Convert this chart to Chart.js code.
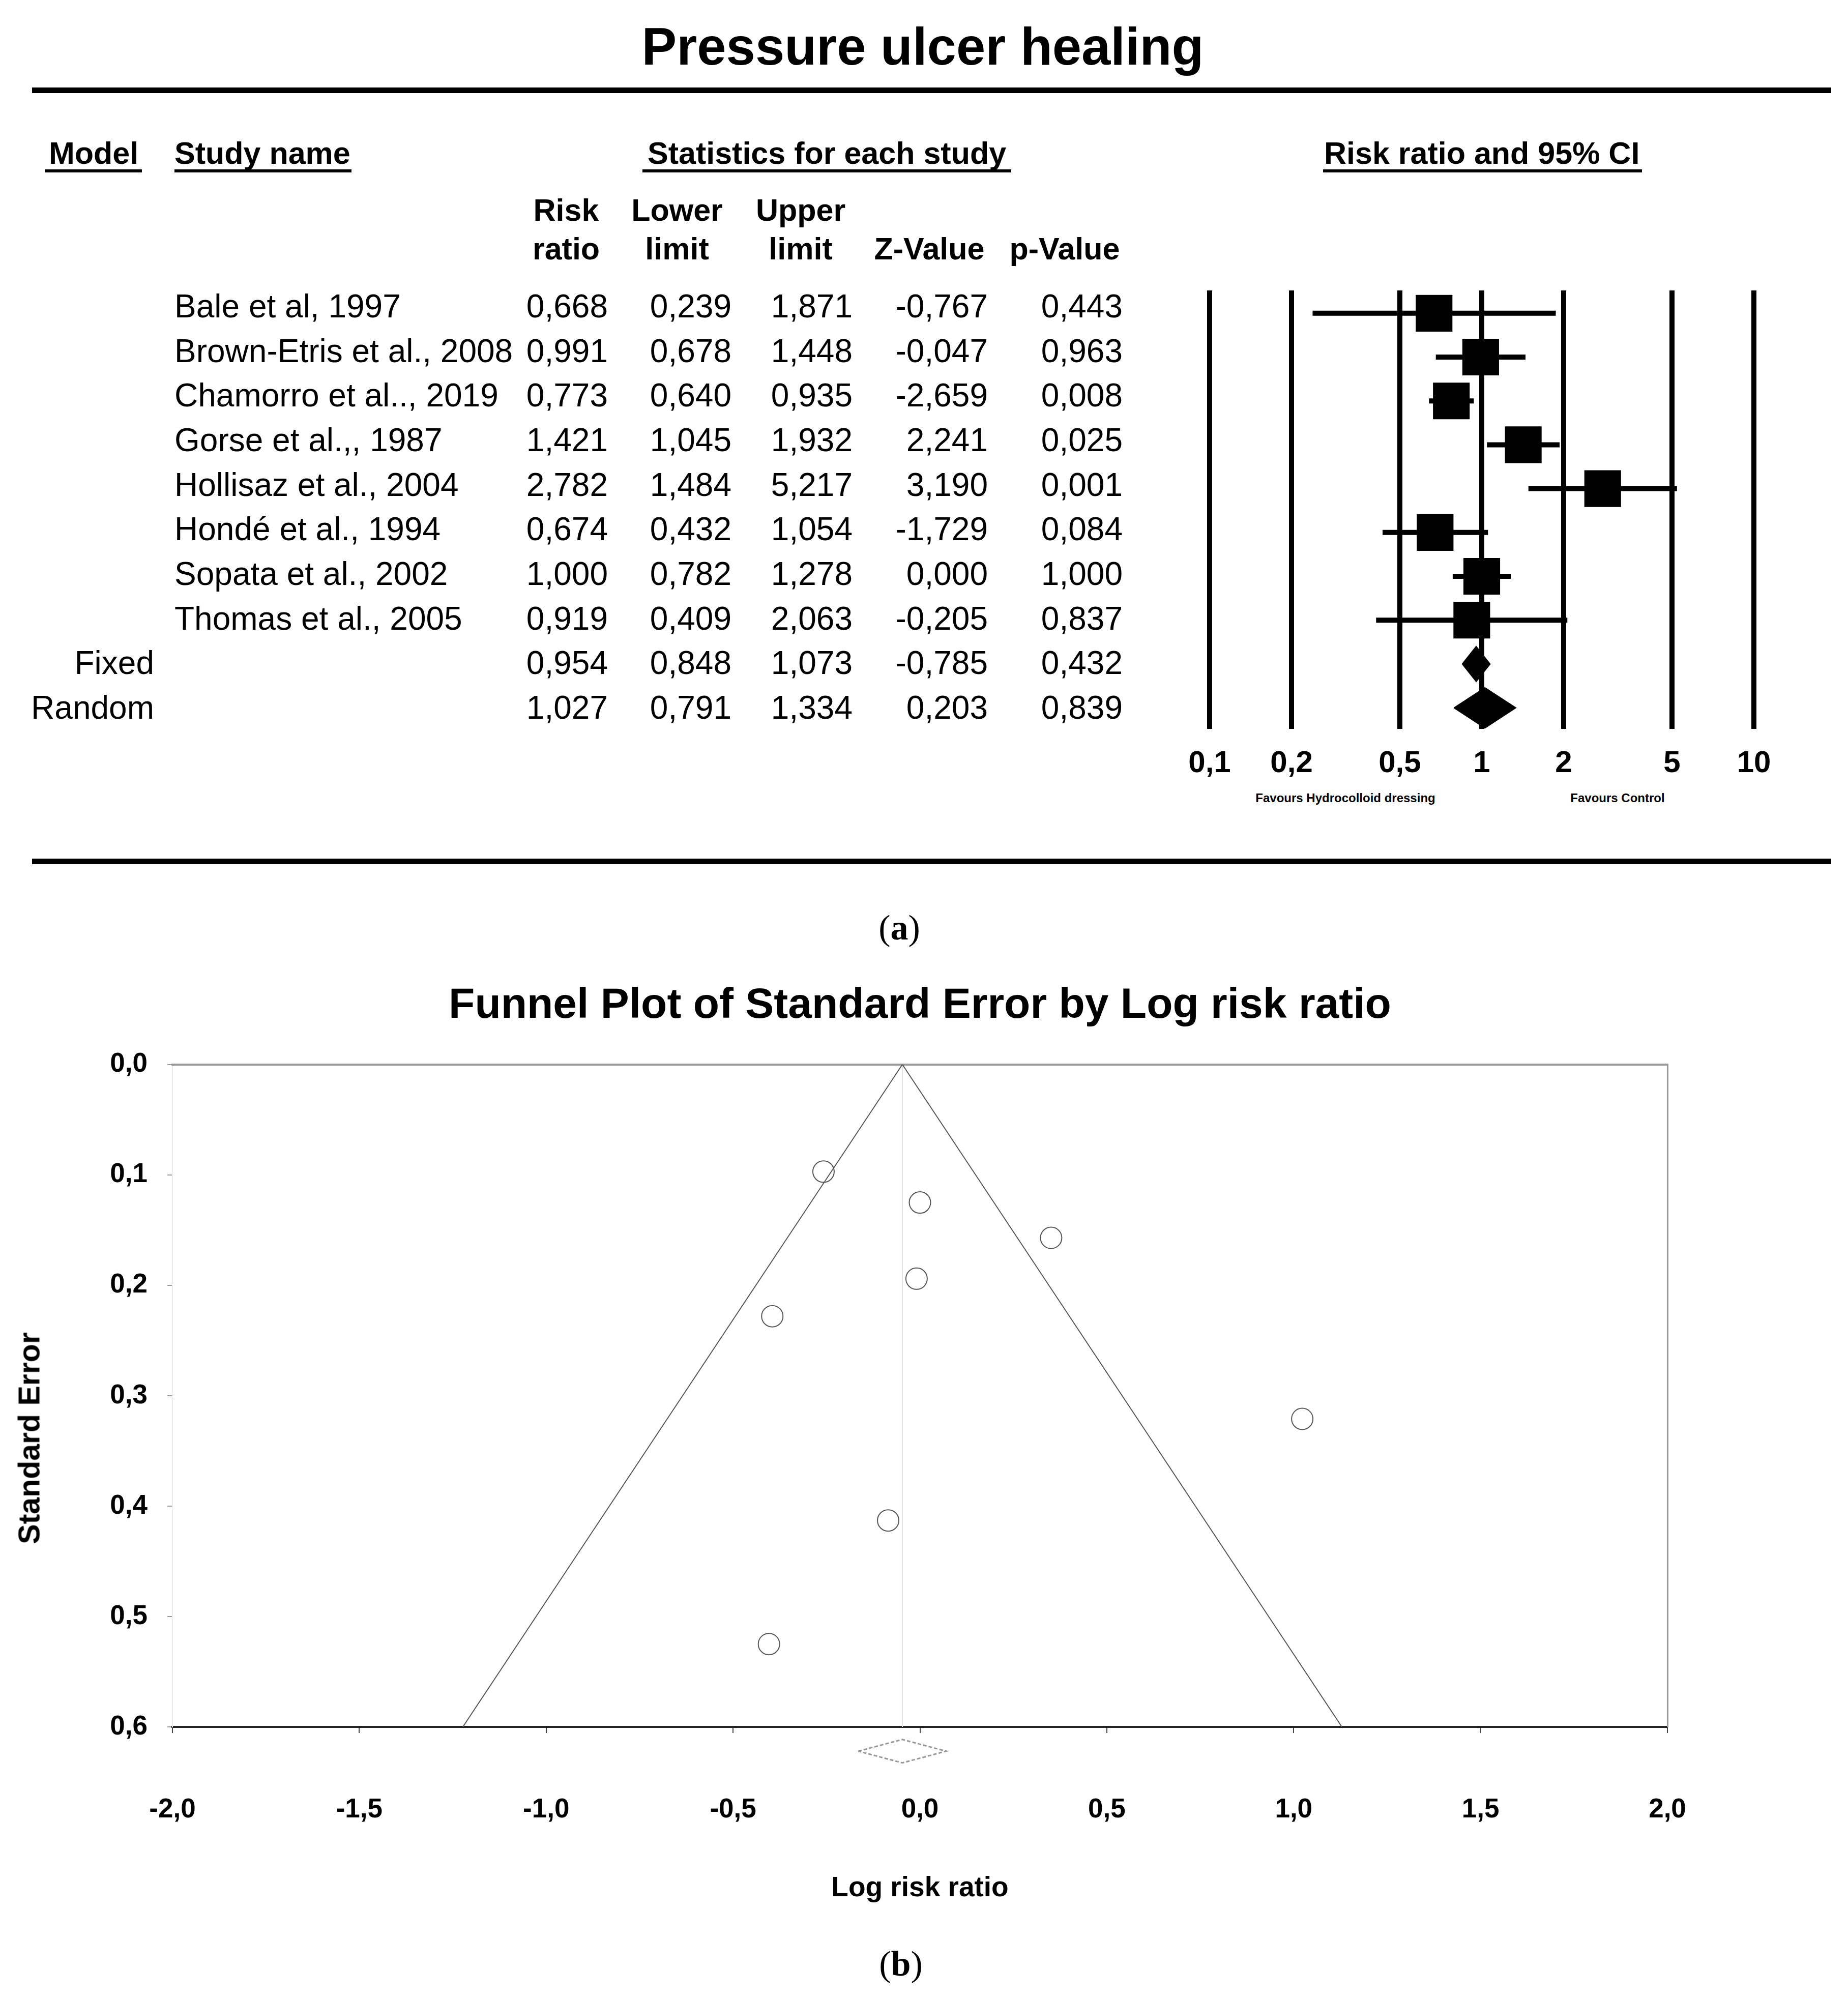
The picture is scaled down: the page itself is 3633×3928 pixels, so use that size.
<!DOCTYPE html>
<html>
<head>
<meta charset="utf-8">
<title>Pressure ulcer healing</title>
<script src="https://cdn.jsdelivr.net/npm/chart.js@4.4.1/dist/chart.umd.min.js"></script>
<style>
    html, body { margin: 0; padding: 0; background: #fff; }
    #page {
        position: relative; width: 3633px; height: 3928px; overflow: hidden;
        background: #fff; color: #000;
        font-family: "Liberation Sans", Arial, sans-serif;
    }
    .txt { position: absolute; white-space: nowrap; line-height: 1; }
    .rule { position: absolute; background: #000; }
    canvas { position: absolute; }
</style>
</head>
<body>
<div id="page">
    <canvas id="forestChart" width="1230" height="1020" style="left:2298px;top:520px;width:1230px;height:1020px"></canvas>
    <canvas id="funnelChart" width="3633" height="1819" style="left:0;top:1927px;width:3633px;height:1819px"></canvas>
</div>
<script>
"use strict";
/* Datos de los estudios (panel a) */
const studyNames = [
    "Bale et al, 1997",
    "Brown-Etris et al., 2008",
    "Chamorro et al.., 2019",
    "Gorse et al.,, 1987",
    "Hollisaz et al., 2004",
    "Hondé et al., 1994",
    "Sopata et al., 2002",
    "Thomas et al., 2005"
];
const riskRatio  = [0.668, 0.991, 0.773, 1.421, 2.782, 0.674, 1.000, 0.919];
const lowerLimit = [0.239, 0.678, 0.640, 1.045, 1.484, 0.432, 0.782, 0.409];
const upperLimit = [1.871, 1.448, 0.935, 1.932, 5.217, 1.054, 1.278, 2.063];
const zValue     = [-0.767, -0.047, -2.659, 2.241, 3.190, -1.729, 0.000, -0.205];
const pValue     = [0.443, 0.963, 0.008, 0.025, 0.001, 0.084, 1.000, 0.837];

/* Modelos combinados */
const summaryModels = ["Fixed", "Random"];
const summaryRR     = [0.954, 1.027];
const summaryLower  = [0.848, 0.791];
const summaryUpper  = [1.073, 1.334];
const summaryZ      = [-0.785, 0.203];
const summaryP      = [0.432, 0.839];

/* Eje del forest plot */
const forestTicks      = [0.1, 0.2, 0.5, 1, 2, 5, 10];
const forestTickLabels = ["0,1", "0,2", "0,5", "1", "2", "5", "10"];

/* Datos del funnel plot (panel b) */
const logRiskRatio  = [-0.404, -0.009, -0.258, 0.351, 1.023, -0.395, 0.000, -0.085];
const standardError = [0.525, 0.194, 0.097, 0.157, 0.321, 0.228, 0.125, 0.413];
const funnelX       = [-1.223, -0.047, 1.129];
const funnelY       = [0.6, 0.0, 0.6];
const funnelDiamond = { lower: -0.165, est: -0.047, upper: 0.070, se: 0.622 };
const funnelXTicks      = [-2, -1.5, -1, -0.5, 0, 0.5, 1, 1.5, 2];
const funnelXTickLabels = ["-2,0", "-1,5", "-1,0", "-0,5", "0,0", "0,5", "1,0", "1,5", "2,0"];
const funnelYTicks      = [0, 0.1, 0.2, 0.3, 0.4, 0.5, 0.6];
const funnelYTickLabels = ["0,0", "0,1", "0,2", "0,3", "0,4", "0,5", "0,6"];

const SANS = "'Liberation Sans', Arial, sans-serif";
const SERIF = "'Liberation Serif', 'Times New Roman', serif";
const PAGE_W = 3633;
const page = document.getElementById("page");

/* Texto posicionado por línea base */
function addText(text, x, baseline, size, opts = {}) {
    const el = document.createElement("div");
    el.className = "txt";
    if (opts.html) el.innerHTML = text; else el.textContent = text;
    el.style.fontSize = size + "px";
    el.style.fontWeight = opts.bold ? "bold" : "normal";
    if (opts.serif) el.style.fontFamily = SERIF;
    const asc = opts.serif ? 0.8375 : 0.8465;
    el.style.top = (baseline - asc * size) + "px";
    if (opts.align === "right") {
        el.style.right = (PAGE_W - x) + "px";
    } else if (opts.align === "center") {
        el.style.left = (x - 1500) + "px";
        el.style.width = "3000px";
        el.style.textAlign = "center";
    } else {
        el.style.left = x + "px";
    }
    page.appendChild(el);
    return el;
}

function addRule(x, y, w, h) {
    const el = document.createElement("div");
    el.className = "rule";
    el.style.left = x + "px";
    el.style.top = y + "px";
    el.style.width = w + "px";
    el.style.height = h + "px";
    page.appendChild(el);
}

const fmt = v => v.toFixed(3).replace(".", ",");

/* Cabecera del panel a */
function dibujarTabla() {
    addText("Pressure ulcer healing", 1814, 127, 103, { bold: true, align: "center" });
    addRule(63, 172, 3537, 11);

    addText("Model", 96, 323, 61, { bold: true });
    addText("Study name", 343, 323, 61, { bold: true });
    addText("Statistics for each study", 1273, 323, 61, { bold: true });
    addText("Risk ratio and 95% CI", 2603, 323, 61, { bold: true });
    addRule(88, 333, 191, 6);
    addRule(343, 333, 348, 6);
    addRule(1263, 333, 725, 6);
    addRule(2601, 333, 627, 6);

    const colCenters = [1113, 1331, 1574, 1827, 2093];
    ["Risk", "Lower", "Upper"].forEach((t, i) => addText(t, colCenters[i], 435, 61, { bold: true, align: "center" }));
    ["ratio", "limit", "limit", "Z-Value", "p-Value"].forEach((t, i) => addText(t, colCenters[i], 511, 61, { bold: true, align: "center" }));

    const colRights = [1195, 1438, 1676, 1942, 2207];
    const rowBase = i => 624 + 87.69 * i;

    studyNames.forEach((name, i) => {
        addText(name, 343, rowBase(i), 64);
        [riskRatio[i], lowerLimit[i], upperLimit[i], zValue[i], pValue[i]].forEach((v, c) => {
            addText(fmt(v), colRights[c], rowBase(i), 64, { align: "right" });
        });
    });

    summaryModels.forEach((m, k) => {
        const i = studyNames.length + k;
        addText(m, 303, rowBase(i), 64, { align: "right" });
        [summaryRR[k], summaryLower[k], summaryUpper[k], summaryZ[k], summaryP[k]].forEach((v, c) => {
            addText(fmt(v), colRights[c], rowBase(i), 64, { align: "right" });
        });
    });

    addText("Favours Hydrocolloid dressing", 2645, 1577, 24, { bold: true, align: "center" });
    addText("Favours Control", 3180, 1577, 24, { bold: true, align: "center" });
    addRule(63, 1688, 3537, 11);

    addText("(<b>a</b>)", 1768, 1848, 70, { serif: true, html: true, align: "center" });
    addText("(<b>b</b>)", 1771, 3885, 70, { serif: true, html: true, align: "center" });

    /* Título del eje Y del funnel, girado */
    const yTitle = document.createElement("div");
    yTitle.className = "txt";
    yTitle.textContent = "Standard Error";
    yTitle.style.fontSize = "59px";
    yTitle.style.fontWeight = "bold";
    yTitle.style.width = "600px";
    yTitle.style.textAlign = "center";
    yTitle.style.left = (58 - 300) + "px";
    yTitle.style.top = (2827 - 29.5) + "px";
    yTitle.style.transform = "rotate(-90deg)";
    page.appendChild(yTitle);
}

/* Forest plot con Chart.js */
function inicializarForest() {
    const ciDatasets = studyNames.map((name, i) => ({
        type: "line",
        label: name,
        data: [{ x: lowerLimit[i], y: i }, { x: upperLimit[i], y: i }],
        borderColor: "#000",
        borderWidth: 10,
        pointRadius: 0,
        fill: false
    }));

    const diamondHalf = [0.40, 0.46];
    const diamondDatasets = summaryModels.map((m, k) => {
        const y = studyNames.length + k;
        const h = diamondHalf[k];
        return {
            type: "line",
            label: m,
            data: [
                { x: summaryLower[k], y: y },
                { x: summaryRR[k], y: y - h },
                { x: summaryUpper[k], y: y },
                { x: summaryRR[k], y: y + h },
                { x: summaryLower[k], y: y }
            ],
            borderColor: "#000",
            backgroundColor: "#000",
            borderWidth: 2,
            pointRadius: 0,
            tension: 0,
            fill: "shape"
        };
    });

    const squareDataset = {
        type: "scatter",
        label: "Risk ratio",
        data: riskRatio.map((v, i) => ({ x: v, y: i })),
        pointStyle: "rect",
        pointRadius: 51,
        backgroundColor: "#000",
        borderColor: "#000",
        borderWidth: 0
    };

    new Chart(document.getElementById("forestChart"), {
        type: "scatter",
        data: { datasets: [squareDataset, ...diamondDatasets, ...ciDatasets] },
        options: {
            responsive: false,
            animation: false,
            devicePixelRatio: 1,
            layout: { padding: { left: 80, right: 80, top: 35, bottom: 0 } },
            plugins: { legend: { display: false }, tooltip: { enabled: false } },
            scales: {
                x: {
                    type: "logarithmic",
                    min: 0.1,
                    max: 10,
                    afterBuildTicks: s => { s.ticks = forestTicks.map(v => ({ value: v })); },
                    afterFit: s => { s.height = 107; },
                    ticks: {
                        callback: (v, i) => forestTickLabels[i],
                        font: { family: SANS, size: 60, weight: "bold" },
                        color: "#000",
                        padding: 32,
                        maxRotation: 0,
                        autoSkip: false
                    },
                    grid: { color: "#000", lineWidth: 10, drawTicks: false },
                    border: { display: false }
                },
                y: { type: "linear", min: -0.52, max: 9.48, reverse: true, display: false }
            }
        }
    });
}

/* Funnel plot con Chart.js */
function inicializarFunnel() {
    const pointsDs = {
        type: "scatter",
        label: "Studies",
        data: logRiskRatio.map((v, i) => ({ x: v, y: standardError[i] })),
        pointStyle: "circle",
        pointRadius: 21,
        backgroundColor: "rgba(0,0,0,0)",
        borderColor: "#555",
        borderWidth: 2,
        xAxisID: "x",
        yAxisID: "y"
    };
    const funnelDs = {
        type: "line",
        label: "Funnel",
        data: funnelX.map((v, i) => ({ x: v, y: funnelY[i] })),
        borderColor: "#555",
        borderWidth: 2,
        pointRadius: 0,
        fill: false,
        xAxisID: "x",
        yAxisID: "y"
    };
    const centerDs = {
        type: "line",
        label: "Centre",
        data: [{ x: funnelX[1], y: funnelY[1] }, { x: funnelX[1], y: funnelY[0] }],
        borderColor: "#e4e4e4",
        borderWidth: 2,
        pointRadius: 0,
        fill: false,
        xAxisID: "x",
        yAxisID: "y"
    };
    const d = funnelDiamond;
    const dh = 0.0106;
    const diamondDs = {
        type: "line",
        label: "Summary",
        data: [
            { x: d.lower, y: d.se },
            { x: d.est, y: d.se - dh },
            { x: d.upper, y: d.se },
            { x: d.est, y: d.se + dh },
            { x: d.lower, y: d.se }
        ],
        borderColor: "#999",
        borderWidth: 3,
        borderDash: [7, 4],
        pointRadius: 0,
        fill: false,
        clip: false,
        xAxisID: "x",
        yAxisID: "y"
    };

    new Chart(document.getElementById("funnelChart"), {
        type: "scatter",
        data: { datasets: [pointsDs, funnelDs, centerDs, diamondDs] },
        options: {
            responsive: false,
            animation: false,
            devicePixelRatio: 1,
            layout: { padding: { left: 0, right: 355, top: 0, bottom: 0 } },
            plugins: {
                legend: { display: false },
                tooltip: { enabled: false },
                title: {
                    display: true,
                    text: "Funnel Plot of Standard Error by Log risk ratio",
                    fullSize: false,
                    color: "#000",
                    font: { family: SANS, size: 84, weight: "bold" },
                    padding: { top: 0, bottom: 65 }
                }
            },
            scales: {
                x: {
                    type: "linear",
                    position: "bottom",
                    min: -2,
                    max: 2,
                    afterBuildTicks: s => { s.ticks = funnelXTicks.map(v => ({ value: v })); },
                    afterFit: s => { s.height = 351; },
                    ticks: {
                        callback: (v, i) => funnelXTickLabels[i],
                        font: { family: SANS, size: 53, weight: "bold" },
                        color: "#000",
                        padding: 120,
                        maxRotation: 0,
                        autoSkip: false
                    },
                    grid: { drawOnChartArea: false, drawTicks: true, tickLength: 12, color: "#444", lineWidth: 2 },
                    border: { display: true, color: "#222", width: 4 },
                    title: {
                        display: true,
                        text: "Log risk ratio",
                        color: "#000",
                        font: { family: SANS, size: 55, weight: "bold" },
                        padding: { top: 0, bottom: 0 }
                    }
                },
                y: {
                    type: "linear",
                    position: "left",
                    min: 0,
                    max: 0.6,
                    reverse: true,
                    afterBuildTicks: s => { s.ticks = funnelYTicks.map(v => ({ value: v })); },
                    afterFit: s => { s.width = 339; },
                    ticks: {
                        callback: (v, i) => funnelYTickLabels[i],
                        font: { family: SANS, size: 53, weight: "bold" },
                        color: "#000",
                        padding: 39,
                        autoSkip: false
                    },
                    grid: { drawOnChartArea: false, drawTicks: true, tickLength: 10, color: "#999", lineWidth: 2 },
                    border: { display: true, color: "#ececec", width: 2 }
                },
                xTop: {
                    type: "linear",
                    position: "top",
                    min: -2,
                    max: 2,
                    afterFit: s => { s.height = 0; },
                    ticks: { display: false },
                    grid: { display: false },
                    border: { display: true, color: "#999", width: 4 }
                },
                yRight: {
                    type: "linear",
                    position: "right",
                    min: 0,
                    max: 0.6,
                    afterFit: s => { s.width = 0; },
                    ticks: { display: false },
                    grid: { display: false },
                    border: { display: true, color: "#999", width: 3 }
                }
            }
        }
    });
}

dibujarTabla();
inicializarForest();
inicializarFunnel();
</script>
</body>
</html>
